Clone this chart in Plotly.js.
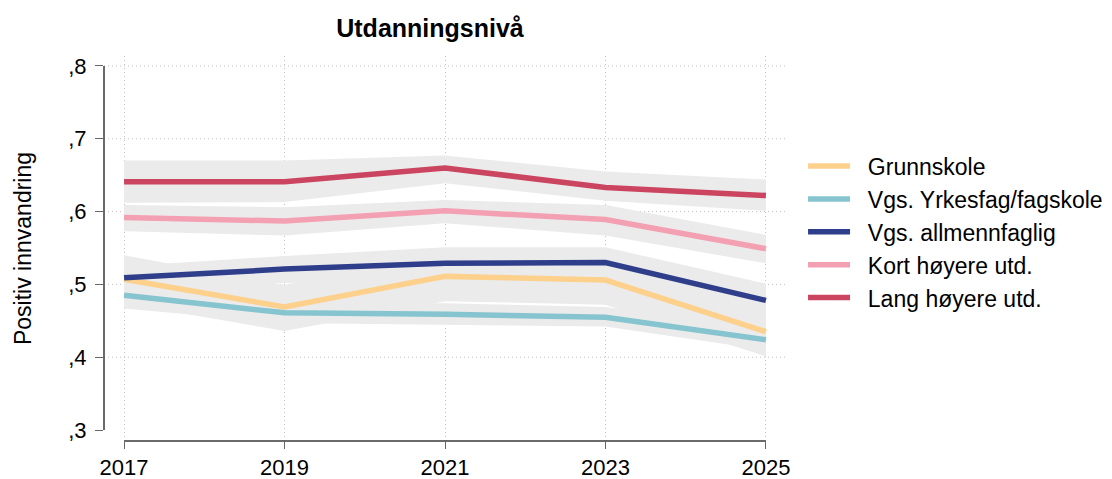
<!DOCTYPE html>
<html>
<head>
<meta charset="utf-8">
<script src="https://cdn.plot.ly/plotly-3.0.1.min.js"></script>
<style>html,body{margin:0;padding:0;background:#fff;}#chart{width:1112px;height:479px;}</style>
</head>
<body>
<div id="chart"></div>
<script>
// ---- data ----
const years = [2017, 2019, 2021, 2023, 2025];
const seriesNames = ["Grunnskole", "Vgs. Yrkesfag/fagskole", "Vgs. allmennfaglig", "Kort høyere utd.", "Lang høyere utd."];

const grunnskole      = [0.507, 0.469, 0.511, 0.506, 0.435];
const grunnskoleHi    = [0.540, 0.499, 0.545, 0.540, 0.468];
const grunnskoleLo    = [0.474, 0.436, 0.477, 0.472, 0.401];

const yrkesfag        = [0.485, 0.461, 0.459, 0.455, 0.424];
const yrkesfagHi      = [0.500, 0.475, 0.474, 0.469, 0.440];
const yrkesfagLo      = [0.467, 0.447, 0.444, 0.442, 0.410];

const allmenn         = [0.509, 0.521, 0.529, 0.530, 0.478];
const allmennHi       = [0.525, 0.539, 0.551, 0.551, 0.501];
const allmennLo       = [0.493, 0.502, 0.507, 0.509, 0.455];

const kort            = [0.592, 0.587, 0.601, 0.589, 0.549];
const kortHi          = [0.609, 0.606, 0.616, 0.609, 0.568];
const kortLo          = [0.573, 0.567, 0.584, 0.567, 0.529];

const lang            = [0.641, 0.641, 0.660, 0.633, 0.622];
const langHi          = [0.670, 0.670, 0.677, 0.655, 0.644];
const langLo          = [0.612, 0.613, 0.639, 0.615, 0.601];

const yTickVals = [0.3, 0.4, 0.5, 0.6, 0.7, 0.8];
const yTickText = [",3", ",4", ",5", ",6", ",7", ",8"];
const yGridVals = [0.4, 0.5, 0.6, 0.7, 0.8];

// ---- styling ----
const colors = ["#FDD08C", "#86C4CF", "#2F3E8A", "#F3A0B3", "#CB4560"];
const bandColor = "#EBEBEB";
const FONT = "Liberation Sans, Arial, sans-serif";
const GRID = "#C0C0C0";
const DOT = "1px,3px";

const vals = [grunnskole, yrkesfag, allmenn, kort, lang];
const his = [grunnskoleHi, yrkesfagHi, allmennHi, kortHi, langHi];
const los = [grunnskoleLo, yrkesfagLo, allmennLo, kortLo, langLo];

const traces = [];
for (let i = 0; i < 5; i++) {
  traces.push({
    x: years.concat(years.slice().reverse()),
    y: his[i].concat(los[i].slice().reverse()),
    type: "scatter", mode: "lines", fill: "toself",
    fillcolor: bandColor, line: {width: 0, color: bandColor},
    hoverinfo: "skip", showlegend: false
  });
}
for (let i = 0; i < 5; i++) {
  traces.push({
    x: years, y: vals[i], name: "\u00a0\u00a0" + seriesNames[i],
    type: "scatter", mode: "lines",
    line: {color: colors[i], width: 5.5}
  });
}

const shapes = [];
yGridVals.forEach(v => shapes.push({
  type: "line", xref: "paper", x0: 0, x1: 1, yref: "y", y0: v, y1: v,
  line: {color: GRID, width: 1, dash: DOT}, layer: "below"
}));
shapes.push({type: "line", xref: "paper", x0: 0, x1: 0, yref: "y",
  y0: yTickVals[0], y1: yTickVals[yTickVals.length - 1],
  line: {color: "#5A5A5A", width: 1.8}});
shapes.push({type: "line", xref: "x", x0: years[0], x1: years[years.length - 1],
  yref: "paper", y0: 0, y1: 0, line: {color: "#3A3A3A", width: 1.6}});

const layout = {
  width: 1112, height: 479,
  margin: {l: 104, r: 326, t: 56, b: 38, autoexpand: false},
  paper_bgcolor: "#fff", plot_bgcolor: "#fff",
  font: {family: FONT, size: 22, color: "#000"},
  title: {text: "<b>Utdanningsnivå</b>", x: 0.478, xanchor: "center", y: 0.94, yanchor: "middle",
    xref: "paper", font: {family: FONT, size: 25, color: "#000"}},
  xaxis: {
    range: [2016.75, 2025.25], tickvals: years, ticktext: years.map(String),
    ticks: "outside", ticklen: 7, tickcolor: "#666", tickwidth: 1,
    showline: false, zeroline: false,
    showgrid: true, gridcolor: GRID, griddash: DOT, gridwidth: 1,
    ticklabelstandoff: 0,
    tickfont: {family: FONT, size: 22, color: "#000"}
  },
  yaxis: {
    range: [0.2849, 0.8137], tickvals: yTickVals, ticktext: yTickText,
    ticks: "outside", ticklen: 8, tickcolor: "#666", tickwidth: 1,
    showline: false, zeroline: false, showgrid: false,
    ticklabelstandoff: 4,
    tickfont: {family: FONT, size: 22, color: "#000"},
    title: {text: "Positiv innvandring", standoff: 30, font: {family: FONT, size: 23, color: "#000"}}
  },
  showlegend: true,
  legend: {
    x: 1.025, xanchor: "left", y: 0.77, yanchor: "top",
    traceorder: "normal",
    font: {family: FONT, size: 23, color: "#000"},
    itemwidth: 42, bgcolor: "rgba(0,0,0,0)"
  },
  shapes: shapes
};

Plotly.newPlot("chart", traces, layout, {displayModeBar: false, staticPlot: true});
</script>
</body>
</html>
